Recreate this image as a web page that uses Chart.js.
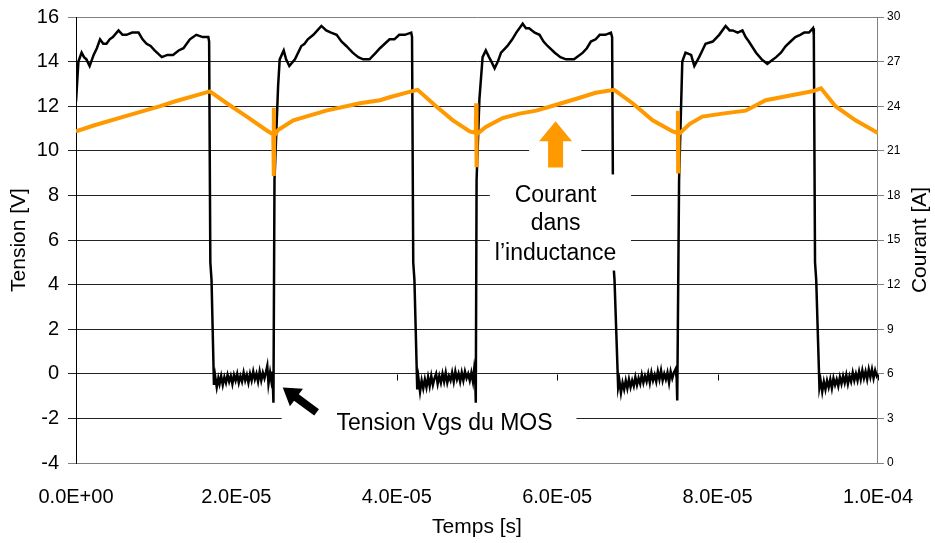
<!DOCTYPE html>
<html>
<head>
<meta charset="utf-8">
<script src="https://cdn.jsdelivr.net/npm/chart.js@4.4.1/dist/chart.umd.min.js"></script>
<style>
  html, body { margin: 0; padding: 0; background: #fff; }
</style>
</head>
<body>
<canvas id="chart" width="935" height="543"></canvas>
<script>
// Time in microseconds, Vgs in volts (left axis), inductor current in amps (right axis)
const timeTicks = [0, 20, 40, 60, 80, 100];
const voltTicks = [-4, -2, 0, 2, 4, 6, 8, 10, 12, 14, 16];
const ampTicks = [0, 3, 6, 9, 12, 15, 18, 21, 24, 27, 30];

// Tension Vgs du MOS [t (us), V]
const vgsPoints = [
  [0, 12.2], [0.3, 14.0], [0.7, 14.4], [1.0, 14.2], [1.3, 14.1], [1.7, 13.8], [2.2, 14.3], [2.6, 14.6], [3.0, 15.0],
  [3.4, 14.8], [3.8, 14.8], [4.2, 15.0], [4.6, 15.1], [5.3, 15.4], [5.8, 15.2], [6.3, 15.2], [7.0, 15.3], [7.8, 15.3],
  [8.3, 15.0], [8.8, 14.8], [9.3, 14.7], [9.8, 14.5], [10.7, 14.2], [11.4, 14.3], [12.1, 14.3], [12.8, 14.5],
  [13.4, 14.6], [14.2, 15.0], [15.0, 15.2], [15.8, 15.1], [16.5, 15.1],
  [16.6, 14.9], [16.75, 5.0], [16.9, 4.2], [17.2, -0.5],
  [17.35, -0.1], [17.55, -0.6], [17.75, -0.2], [17.9, -0.45], [18.1, -0.1], [18.3, -0.5], [18.5, -0.15], [18.7, -0.4],
  [18.9, -0.05], [19.1, -0.35], [19.3, -0.1], [19.5, -0.45], [19.7, -0.05], [19.9, -0.3], [20.1, 0.0], [20.3, -0.4],
  [20.5, -0.1], [20.7, -0.35], [20.9, 0.05], [21.1, -0.3], [21.3, -0.05], [21.5, -0.4], [21.7, 0.0], [21.9, -0.3],
  [22.1, 0.1], [22.3, -0.25], [22.5, 0.0], [22.7, -0.35], [22.9, 0.1], [23.1, -0.3], [23.3, 0.05], [23.5, -0.2],
  [23.7, 0.1], [23.85, 0.35], [24.0, -0.45], [24.2, 0.05], [24.35, -0.3], [24.5, 0.1],
  [24.62, -1.3], [24.75, 8.7], [25.2, 12.9], [25.4, 14.1], [25.9, 14.5], [26.2, 14.1], [26.6, 13.8], [27.3, 14.1],
  [28.1, 14.7], [28.5, 14.8], [28.9, 15.0], [29.6, 15.2], [30.1, 15.4], [30.6, 15.6], [31.2, 15.4], [31.8, 15.3],
  [32.5, 15.2], [33.1, 14.9], [33.7, 14.7], [34.5, 14.4], [35.2, 14.2], [35.8, 14.1], [36.6, 14.1], [37.4, 14.4],
  [37.9, 14.6], [38.5, 14.8], [39.1, 15.0], [39.7, 15.0], [40.3, 15.2], [41.0, 15.2], [41.8, 15.3],
  [41.9, 15.1], [42.05, 5.0], [42.2, 4.2], [42.55, -0.7],
  [42.7, -0.2], [42.9, -0.8], [43.1, -0.3], [43.3, -0.65], [43.5, -0.25], [43.7, -0.6], [43.9, -0.15], [44.1, -0.55],
  [44.3, -0.1], [44.5, -0.5], [44.7, -0.2], [44.9, 0.0], [45.1, -0.45], [45.3, -0.1], [45.5, -0.4], [45.7, 0.0],
  [45.9, -0.35], [46.1, 0.05], [46.3, -0.4], [46.5, -0.1], [46.7, -0.3], [46.9, 0.05], [47.1, -0.35], [47.3, 0.1],
  [47.5, -0.25], [47.7, 0.0], [47.9, -0.35], [48.1, 0.05], [48.3, -0.3], [48.5, 0.1], [48.7, -0.2], [48.9, 0.0],
  [49.1, -0.3], [49.3, 0.05], [49.5, -0.35], [49.65, 0.2], [49.78, -0.2],
  [49.85, -1.3], [49.95, 8.7], [50.3, 12.3], [50.7, 14.2], [51.1, 14.5], [51.5, 14.2], [51.8, 14.0], [52.2, 13.7],
  [52.6, 14.0], [53.0, 14.4], [53.8, 14.7], [54.4, 15.0], [54.9, 15.3], [55.7, 15.7], [56.1, 15.5], [56.5, 15.5],
  [57.2, 15.3], [57.8, 15.2], [58.3, 14.9], [58.8, 14.7], [59.7, 14.4], [60.4, 14.2], [61.1, 14.1], [62.1, 14.1],
  [63.2, 14.4], [63.7, 14.6], [64.2, 14.9], [64.8, 15.0], [65.3, 15.2], [66.0, 15.2], [66.7, 15.3],
  [66.85, 15.1], [67.0, 5.0], [67.15, 4.2], [67.6, -0.6],
  [67.75, -0.3], [67.95, -0.85], [68.15, -0.4], [68.35, -0.7], [68.55, -0.3], [68.75, -0.65], [68.95, -0.25], [69.15, -0.6],
  [69.35, -0.3], [69.55, -0.55], [69.75, -0.15], [69.95, -0.5], [70.15, -0.2], [70.35, -0.45], [70.55, -0.05], [70.75, -0.4],
  [70.95, -0.1], [71.15, -0.35], [71.35, 0.0], [71.55, -0.4], [71.75, 0.05], [71.95, -0.3], [72.15, -0.05], [72.35, -0.35],
  [72.55, 0.1], [72.75, -0.25], [72.95, 0.15], [73.15, -0.3], [73.35, 0.0], [73.55, -0.25], [73.75, 0.05], [73.95, -0.4],
  [74.15, 0.1], [74.35, -0.2], [74.55, 0.05], [74.75, 0.2], [74.9, -0.2],
  [74.97, -1.2], [75.2, 8.7], [75.6, 14.0], [76.0, 14.4], [76.7, 14.3], [77.1, 13.8], [77.7, 14.2], [78.1, 14.5],
  [78.5, 14.8], [79.4, 14.9], [80.2, 15.2], [81.0, 15.6], [81.5, 15.4], [81.9, 15.4], [82.5, 15.3], [83.1, 15.4],
  [83.5, 15.1], [83.9, 14.9], [84.8, 14.4], [85.5, 14.1], [86.2, 13.9], [87.3, 14.2], [87.9, 14.4], [88.5, 14.7],
  [89.1, 14.9], [89.7, 15.1], [90.3, 15.2], [90.8, 15.3], [91.4, 15.3], [91.9, 15.5],
  [92.0, 15.2], [92.15, 5.0], [92.3, 4.2], [92.7, -0.6],
  [92.85, -0.3], [93.05, -0.8], [93.25, -0.35], [93.45, -0.7], [93.65, -0.3], [93.85, -0.6], [94.05, -0.25], [94.25, -0.65],
  [94.45, -0.2], [94.65, -0.5], [94.85, -0.25], [95.05, -0.55], [95.25, -0.15], [95.45, -0.45], [95.65, -0.1], [95.85, -0.4],
  [96.05, -0.05], [96.25, -0.45], [96.45, -0.1], [96.65, -0.35], [96.85, 0.05], [97.05, -0.3], [97.25, 0.0], [97.45, -0.3],
  [97.65, 0.1], [97.85, -0.25], [98.05, 0.15], [98.25, -0.2], [98.45, 0.1], [98.65, -0.25], [98.85, 0.2], [99.05, -0.15],
  [99.25, 0.2], [99.45, -0.2], [99.65, 0.15], [99.85, -0.1], [100, 0.0]
];

// Courant dans l'inductance [t (us), A]
const currentPoints = [
  [0, 22.3], [2.2, 22.7], [6.3, 23.35], [10.5, 24.0], [12.5, 24.35], [15.4, 24.8], [16.7, 25.0], [18.8, 24.2],
  [21.3, 23.3], [23.7, 22.4], [24.6, 22.1], [24.65, 23.9], [24.68, 19.3], [24.72, 22.0], [25.2, 22.4], [27.1, 23.05],
  [31.2, 23.7], [35.4, 24.2], [37.9, 24.4], [39.1, 24.6], [41.8, 25.0], [42.6, 25.1], [44.9, 24.0], [47.0, 23.05],
  [49.1, 22.3], [49.85, 22.2], [49.9, 24.2], [49.93, 19.9], [49.97, 22.1], [51.1, 22.6], [53.2, 23.2], [55.3, 23.5],
  [57.4, 23.7], [59.9, 24.1], [62.4, 24.5], [64.8, 24.9], [67.1, 25.1], [69.4, 24.2], [71.9, 23.05], [74.4, 22.3],
  [75.0, 22.2], [75.05, 23.7], [75.08, 19.6], [75.12, 22.1], [76.5, 22.8], [78.1, 23.3], [80.6, 23.5], [83.5, 23.7],
  [86.0, 24.4], [88.9, 24.7], [91.8, 25.0], [92.9, 25.2], [94.7, 24.0], [97.2, 23.05], [100, 22.2]
];

const FONT = 'Liberation Sans, Arial, sans-serif';

function sciLabel(us) {
  const s = (us * 1e-6).toExponential(1);           // e.g. "2.0e-5"
  const [m, e] = s.split('e');
  const sign = e[0] === '-' ? '-' : '+';
  const digits = e.replace(/^[+-]/, '').padStart(2, '0');
  return m + 'E' + sign + digits;
}

function drawArrow(ctx, x1, y1, x2, y2, shaftW, headW, headL, color) {
  const dx = x2 - x1, dy = y2 - y1;
  const len = Math.hypot(dx, dy);
  const ux = dx / len, uy = dy / len;
  const nx = -uy, ny = ux;
  const bx = x2 - ux * headL, by = y2 - uy * headL;
  ctx.beginPath();
  ctx.moveTo(x1 + nx * shaftW / 2, y1 + ny * shaftW / 2);
  ctx.lineTo(bx + nx * shaftW / 2, by + ny * shaftW / 2);
  ctx.lineTo(bx + nx * headW / 2, by + ny * headW / 2);
  ctx.lineTo(x2, y2);
  ctx.lineTo(bx - nx * headW / 2, by - ny * headW / 2);
  ctx.lineTo(bx - nx * shaftW / 2, by - ny * shaftW / 2);
  ctx.lineTo(x1 - nx * shaftW / 2, y1 - ny * shaftW / 2);
  ctx.closePath();
  ctx.fillStyle = color;
  ctx.fill();
}

const annotations = {
  id: 'annotations',
  afterDatasetsDraw(chart) {
    const ctx = chart.ctx;
    const xs = chart.scales.x, ys = chart.scales.y;
    const px = t => xs.getPixelForValue(t);
    const py = v => ys.getPixelForValue(v);
    ctx.save();

    // horizontal axis crosses at 0 V: small tick marks there
    ctx.strokeStyle = '#000';
    ctx.lineWidth = 1;
    const y0 = Math.round(py(0)) + 0.5;
    timeTicks.forEach(t => {
      const x = Math.round(px(t)) + 0.5;
      ctx.beginPath();
      ctx.moveTo(x, y0);
      ctx.lineTo(x, y0 + 6);
      ctx.stroke();
    });

    // label boxes
    ctx.fillStyle = '#fff';
    ctx.fillRect(px(51.6), py(8.94), px(69.2) - px(51.6), py(4.63) - py(8.94));
    ctx.fillRect(px(56.5), py(11.54), px(63.0) - px(56.5), py(9.03) - py(11.54));
    ctx.fillRect(px(25.65), py(-1.37), px(62.4) - px(25.65), py(-3.13) - py(-1.37));

    // arrows
    drawArrow(ctx, px(59.8), py(9.25), px(59.8), py(11.32), 15, 33, 20, '#FF9900');
    drawArrow(ctx, px(30.0), py(-1.73), px(25.78), py(-0.61), 8, 22, 17, '#000');

    // texts
    ctx.fillStyle = '#000';
    ctx.font = '23px ' + FONT;
    ctx.textAlign = 'center';
    ctx.textBaseline = 'middle';
    ctx.fillText('Courant', px(59.8), py(8.0));
    ctx.fillText('dans', px(59.8), py(6.74));
    ctx.fillText('l\u2019inductance', px(59.8), py(5.4));
    ctx.fillText('Tension Vgs du MOS', px(45.95), py(-2.23));

    // right axis title, reading bottom to top
    ctx.font = '21px ' + FONT;
    ctx.translate(920, (chart.chartArea.top + chart.chartArea.bottom) / 2);
    ctx.rotate(-Math.PI / 2);
    ctx.fillText('Courant [A]', 0, 0);
    ctx.restore();
  }
};

new Chart(document.getElementById('chart'), {
  type: 'line',
  data: {
    datasets: [
      {
        label: 'Tension Vgs du MOS',
        data: vgsPoints.map(p => ({ x: p[0], y: p[1] })),
        yAxisID: 'y',
        borderColor: '#000',
        borderWidth: 2.5,
        pointRadius: 0,
        tension: 0,
        order: 2
      },
      {
        label: 'Courant dans l\u2019inductance',
        data: currentPoints.map(p => ({ x: p[0], y: p[1] })),
        yAxisID: 'y2',
        borderColor: '#FF9900',
        borderWidth: 4,
        pointRadius: 0,
        tension: 0,
        order: 1
      }
    ]
  },
  options: {
    responsive: false,
    animation: false,
    devicePixelRatio: 1,
    layout: { padding: { top: 17, left: 0, right: 0, bottom: 0 } },
    plugins: { legend: { display: false }, tooltip: { enabled: false } },
    scales: {
      x: {
        type: 'linear',
        min: 0,
        max: 100,
        afterBuildTicks: s => { s.ticks = timeTicks.map(v => ({ value: v })); },
        afterFit: s => { s.height = 80; },
        grid: { drawOnChartArea: false, drawTicks: false },
        border: { color: '#808080' },
        ticks: {
          padding: 22,
          color: '#000',
          font: { family: FONT, size: 20 },
          maxRotation: 0,
          callback: v => sciLabel(v)
        },
        title: {
          display: true,
          text: 'Temps [s]',
          color: '#000',
          font: { family: FONT, size: 21 },
          padding: { top: 0, bottom: 3 }
        }
      },
      y: {
        position: 'left',
        min: -4,
        max: 16,
        afterBuildTicks: s => { s.ticks = voltTicks.map(v => ({ value: v })); },
        afterFit: s => { s.width = 76; s.paddingTop = 0; s.paddingBottom = 0; },
        grid: {
          color: c => (c.tick && (c.tick.value === 16 || c.tick.value === -4)) ? '#808080' : '#222',
          tickLength: 8
        },
        border: { color: '#000' },
        ticks: {
          padding: 9,
          color: '#000',
          font: { family: FONT, size: 20 }
        },
        title: {
          display: true,
          text: 'Tension [V]',
          color: '#000',
          font: { family: FONT, size: 21 },
          padding: { top: 7, bottom: 0 }
        }
      },
      y2: {
        position: 'right',
        min: 0,
        max: 30,
        afterBuildTicks: s => { s.ticks = ampTicks.map(v => ({ value: v })); },
        afterFit: s => { s.width = 56; s.paddingTop = 0; s.paddingBottom = 0; },
        grid: { drawOnChartArea: false, color: '#808080', tickLength: 6 },
        border: { color: '#808080' },
        ticks: {
          padding: 3,
          color: '#000',
          font: { family: FONT, size: 12 }
        }
      }
    }
  },
  plugins: [annotations]
});
</script>
</body>
</html>
